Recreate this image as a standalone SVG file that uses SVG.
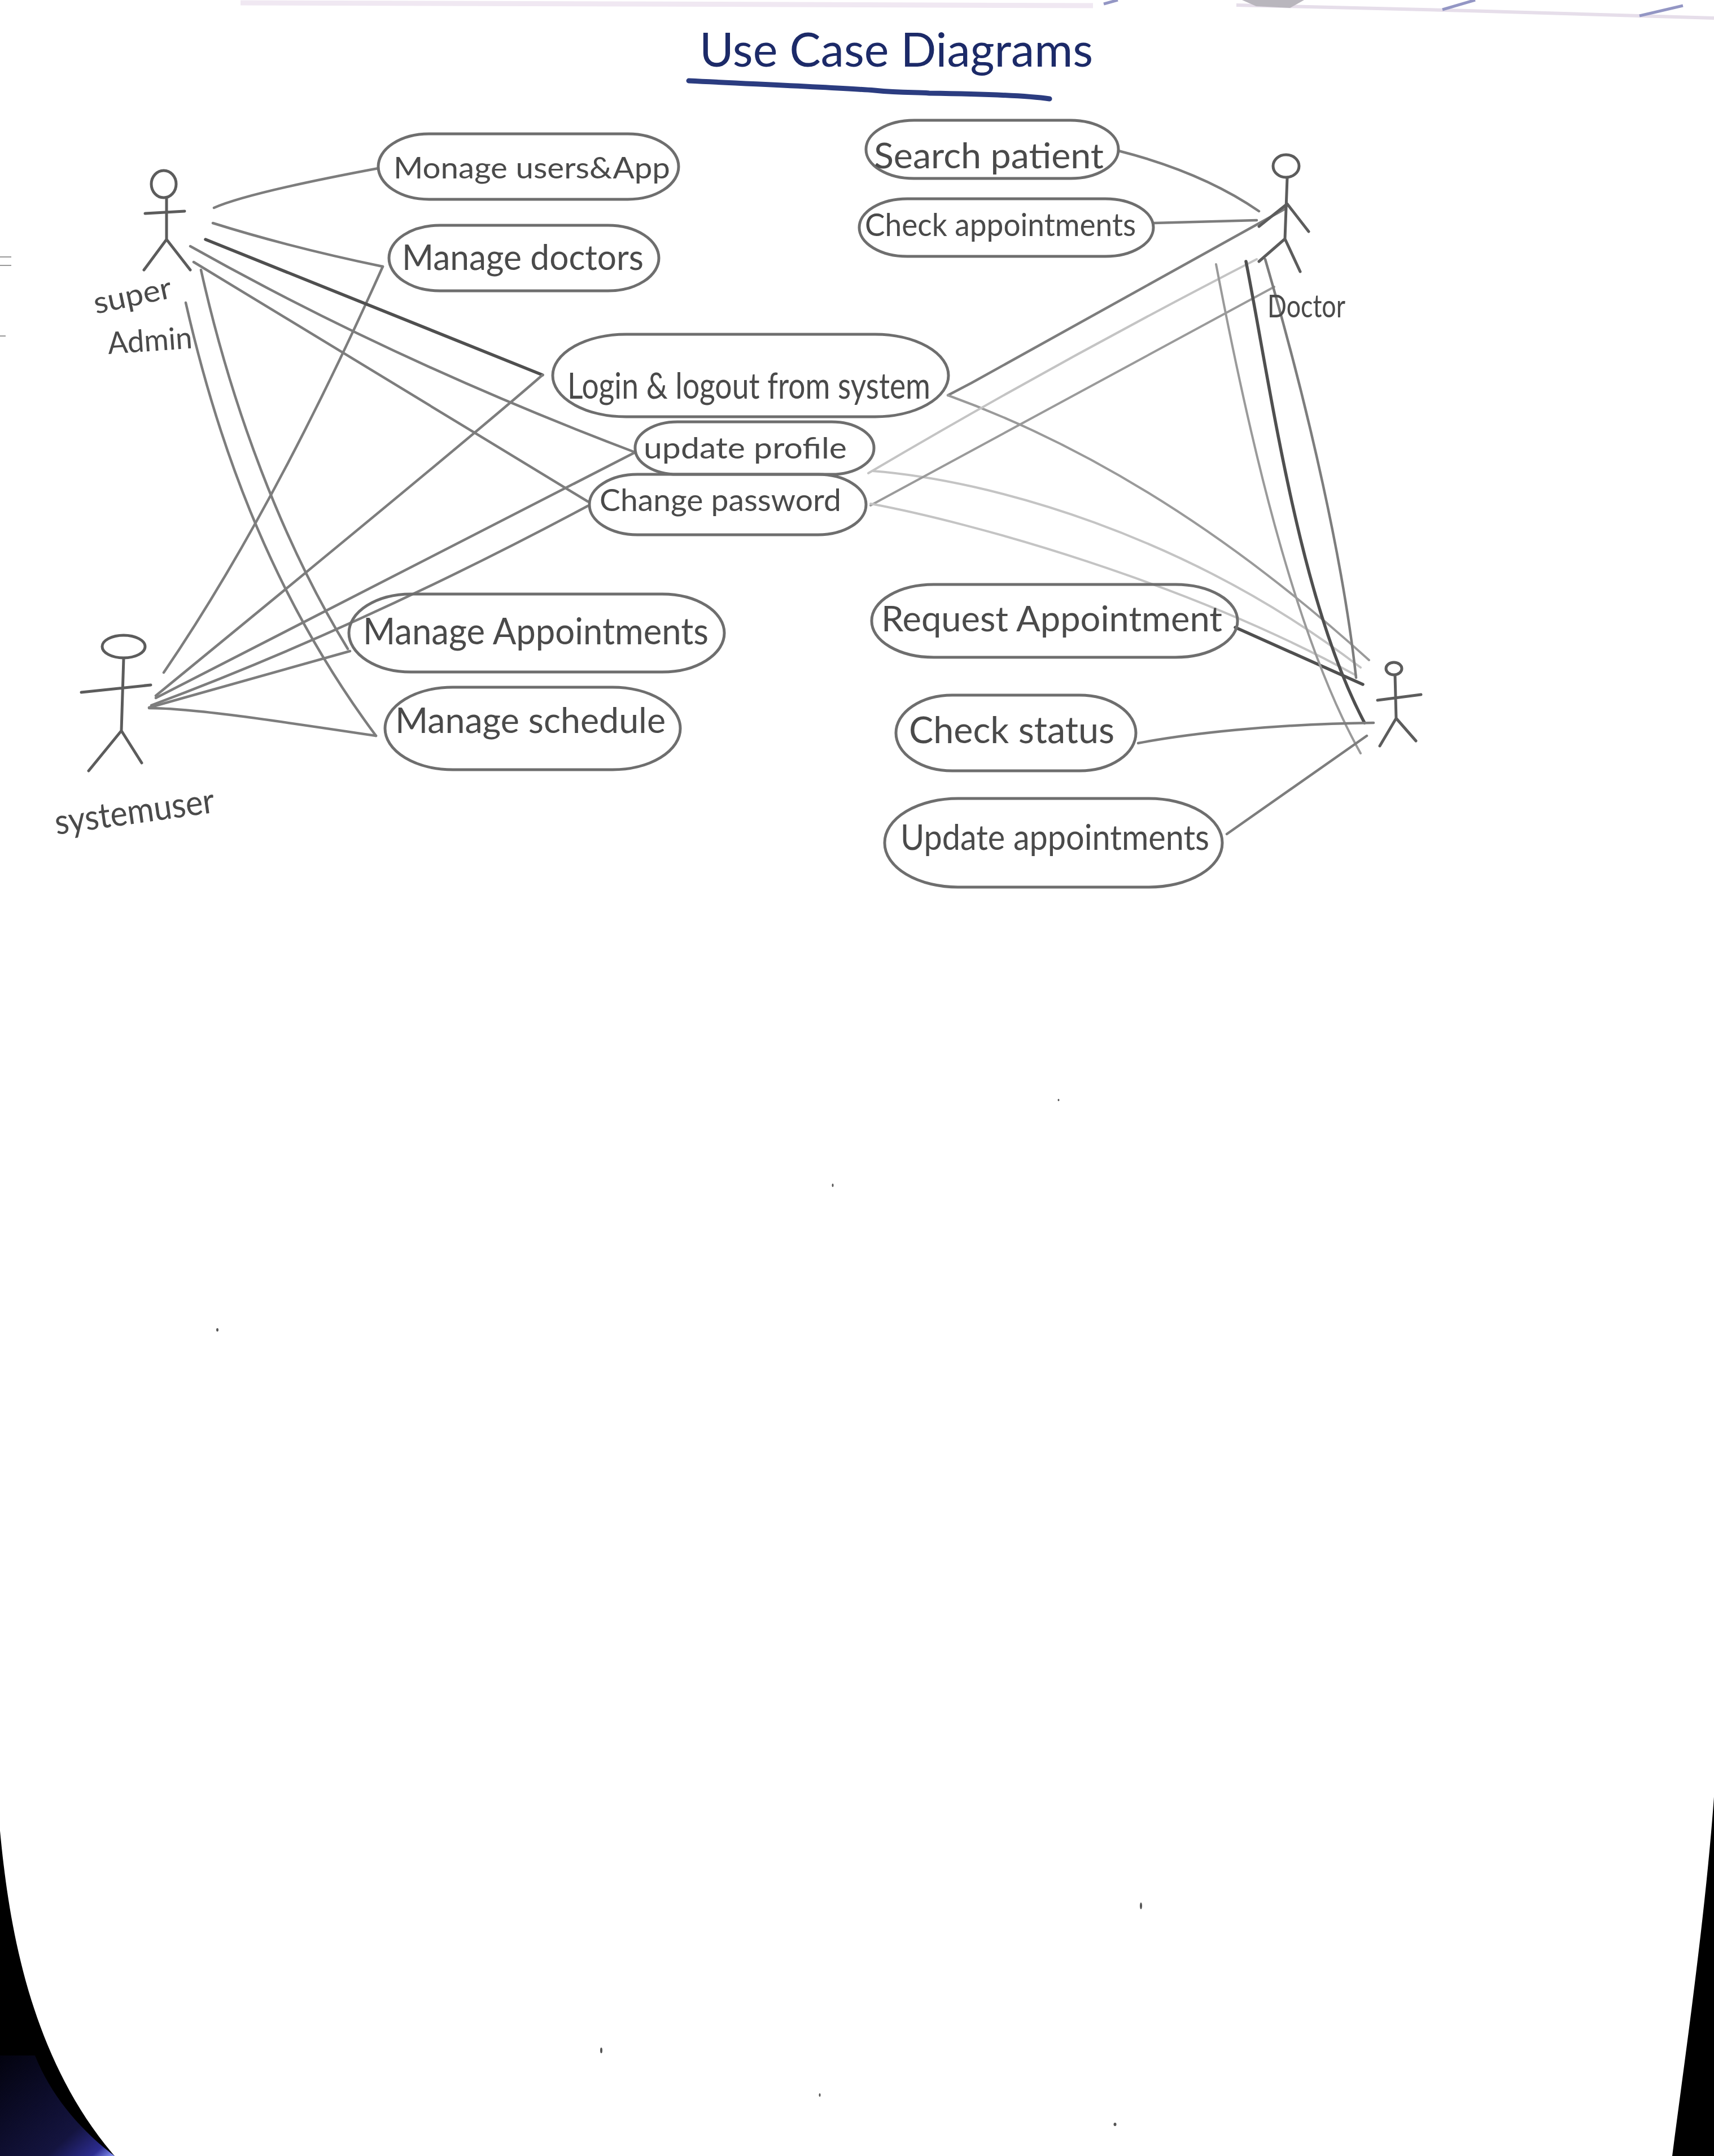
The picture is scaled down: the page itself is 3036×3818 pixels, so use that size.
<svg xmlns="http://www.w3.org/2000/svg" width="3036" height="3818" viewBox="0 0 3036 3818">
<style>
.u{fill:none;stroke:#6e6e6e;stroke-width:5}
.a{fill:none;stroke:#5c5c5c;stroke-width:5;stroke-linecap:round;stroke-linejoin:round}
.c{fill:none;stroke:#7d7d7d;stroke-width:4.5;stroke-linecap:round;stroke-linejoin:round}
.d{stroke:#4f4f4f;stroke-width:5.5}
.m{stroke:#9a9a9a;stroke-width:4}
.l{stroke:#c4c4c4;stroke-width:4}
.t{font-family:"Lato","Liberation Sans",sans-serif;fill:#4a4a4a}
</style>
<defs><linearGradient id="glow" x1="0" y1="0" x2="1" y2="1"><stop offset="0" stop-color="#03030f"/><stop offset=".7" stop-color="#14143f"/><stop offset=".9" stop-color="#2c2c90"/><stop offset="1" stop-color="#8f9cff"/></linearGradient></defs>
<rect width="3036" height="3818" fill="#fff"/>
<g id="page-edges">
<path d="M426,5 L1100,7 L1936,10" fill="none" stroke="#f0e8f2" stroke-width="9"/>
<path d="M2190,9 L2600,19 L3036,32" fill="none" stroke="#e6deea" stroke-width="6"/>
<path d="M2200,0 H2310 L2285,14 L2225,11 Z" fill="#b9b6bd"/>
<path d="M1955,7 L1980,0 M2555,17 L2613,0 M2904,28 L2981,10" fill="none" stroke="#9396c4" stroke-width="5"/>
<path d="M0,455 H20 M0,470 H20 M0,595 H10" fill="none" stroke="#999" stroke-width="2"/>
<path d="M0,3242 C15,3400 50,3640 203,3818 H0 Z" fill="#000"/>
<path d="M0,3640 L62,3640 C90,3710 140,3770 203,3818 H0 Z" fill="url(#glow)"/>
<path d="M3036,3182 C3020,3400 2985,3640 2962,3818 H3036 Z" fill="#000"/>
<g fill="#555"><ellipse cx="2021" cy="3375" rx="2" ry="6"/><ellipse cx="1065" cy="3631" rx="2" ry="5"/><ellipse cx="1452" cy="3710" rx="1.500" ry="3"/><ellipse cx="1975" cy="3762" rx="2.500" ry="3"/><ellipse cx="385" cy="2355" rx="2" ry="3"/><ellipse cx="1475" cy="2099" rx="1.500" ry="3"/><ellipse cx="1875" cy="1948" rx="1.500" ry="2"/></g>
</g>
<g id="title">
<text x="1239" y="118" font-family="Lato,'Liberation Sans',sans-serif" font-size="84" fill="#1c2a68" textLength="697" lengthAdjust="spacingAndGlyphs">Use  Case  Diagrams</text>
<path d="M1220,143 C1360,150 1480,155 1549,160 C1600,165 1620,163 1646,165 C1720,166 1810,168 1859,175" fill="none" stroke="#2b3c80" stroke-width="9" stroke-linecap="round"/>
</g>
<g id="connectors">
<path class="c" d="M379,368 Q440,341 670,298"/>
<path class="c" d="M377,395 Q514,438 678,472"/>
<path class="c" d="M678,472 Q482,910 290,1191"/>
<path class="c d" d="M364,424 L961,664"/>
<path class="c" d="M961,664 Q834,775 276,1232"/>
<path class="c" d="M337,436 Q700,640 1125,801"/>
<path class="c" d="M1125,801 L276,1236"/>
<path class="c" d="M343,464 L1041,888"/>
<path class="c" d="M1041,896 Q640,1110 268,1249"/>
<path class="c" d="M356,478 C410,720 500,960 616,1149"/>
<path class="c" d="M329,536 C380,760 470,1040 666,1303"/>
<path class="c" d="M264,1253 L620,1153"/>
<path class="c" d="M264,1254 C340,1254 480,1275 666,1303"/>
<path class="c" d="M1981,267 Q2130,305 2230,374"/>
<path class="c" d="M2043,395 L2226,390"/>
<path class="c" d="M1679,700 L1721,678 L2276,370"/>
<path class="c m" d="M1679,700 C1900,780 2150,920 2425,1169"/>
<path class="c l" d="M1538,838 Q1874,640 2226,459"/>
<path class="c l" d="M1545,834 C1750,850 2100,945 2410,1182"/>
<path class="c m" d="M1542,895 L2257,508"/>
<path class="c l" d="M1542,892 C1720,925 2100,1030 2402,1196"/>
<path class="c d" d="M2188,1111 L2414,1212"/>
<path class="c m" d="M2154,468 C2210,760 2290,1120 2410,1334"/>
<path class="c d" d="M2207,463 C2250,680 2300,1060 2417,1280"/>
<path class="c" d="M2241,459 C2320,730 2380,1000 2402,1200"/>
<path class="c" d="M2016,1316 C2100,1300 2250,1282 2433,1280"/>
<path class="c" d="M2173,1477 L2421,1303"/>
</g>
<g id="actor-super-admin">
<ellipse class="a" cx="290" cy="326" rx="22" ry="24"/>
<path class="a" d="M295,350 L295,424 M257,378 L327,374 M255,478 L295,424 L337,478"/>
<text class="t" transform="rotate(-12 170 556)" x="170" y="556" font-size="54" textLength="140" lengthAdjust="spacingAndGlyphs">super</text>
<text class="t" transform="rotate(-4 192 627)" x="192" y="627" font-size="54" textLength="150" lengthAdjust="spacingAndGlyphs">Admin</text>
</g>
<g id="actor-system-user">
<ellipse class="a" cx="219" cy="1145" rx="38" ry="20"/>
<path class="a" d="M219,1166 L215,1294 M144,1226 L267,1213 M157,1365 L215,1294 L251,1351"/>
<text class="t" transform="rotate(-8 100 1478)" x="100" y="1478" font-size="62" textLength="285" lengthAdjust="spacingAndGlyphs">systemuser</text>
</g>
<g id="actor-doctor">
<ellipse class="a" cx="2278" cy="294" rx="23" ry="20"/>
<path class="a" d="M2280,316 L2276,423 M2230,401 L2280,361 L2318,410 M2230,463 L2276,423 L2303,481"/>
<text class="t" x="2245" y="562" font-size="56" fill="#7c7c7c" textLength="138" lengthAdjust="spacingAndGlyphs">Doctor</text>
</g>
<g id="actor-patient">
<ellipse class="a" cx="2469" cy="1184" rx="14" ry="11"/>
<path class="a" d="M2471,1196 L2473,1272 M2440,1240 L2517,1230 M2444,1321 L2473,1272 L2508,1312"/>
</g>
<g id="uc-manage-users"><rect class="u" x="670" y="237" width="532" height="116" rx="90" ry="58"/><text class="t" x="697" y="316" font-size="52" textLength="490" lengthAdjust="spacingAndGlyphs">Monage users&amp;App</text></g>
<g id="uc-manage-doctors"><rect class="u" x="689" y="399" width="478" height="116" rx="90" ry="58"/><text class="t" x="712" y="478" font-size="62" textLength="428" lengthAdjust="spacingAndGlyphs">Manage doctors</text></g>
<g id="uc-login"><rect class="u" x="979" y="592" width="701" height="146" rx="130" ry="73"/><text class="t" x="1005" y="706" font-size="64" textLength="643" lengthAdjust="spacingAndGlyphs">Login &amp; logout from system</text></g>
<g id="uc-update-profile"><rect class="u" x="1125" y="747" width="423" height="93" rx="75" ry="46"/><text class="t" x="1140" y="812" font-size="52" textLength="360" lengthAdjust="spacingAndGlyphs">update profile</text></g>
<g id="uc-change-password"><rect class="u" x="1044" y="840" width="490" height="107" rx="85" ry="53"/><text class="t" x="1062" y="905" font-size="54" textLength="428" lengthAdjust="spacingAndGlyphs">Change password</text></g>
<g id="uc-manage-appointments"><rect class="u" x="618" y="1052" width="665" height="138" rx="110" ry="69"/><text class="t" x="643" y="1141" font-size="66" textLength="612" lengthAdjust="spacingAndGlyphs">Manage Appointments</text></g>
<g id="uc-manage-schedule"><rect class="u" x="682" y="1217" width="523" height="146" rx="120" ry="73"/><text class="t" x="700" y="1298" font-size="62" textLength="479" lengthAdjust="spacingAndGlyphs">Manage schedule</text></g>
<g id="uc-search-patient"><rect class="u" x="1534" y="213" width="447" height="103" rx="85" ry="51"/><text class="t" x="1548" y="298" font-size="62" textLength="407" lengthAdjust="spacingAndGlyphs">Search patient</text></g>
<g id="uc-check-appointments"><rect class="u" x="1522" y="352" width="521" height="102" rx="85" ry="51"/><text class="t" x="1532" y="418" font-size="56" textLength="480" lengthAdjust="spacingAndGlyphs">Check appointments</text></g>
<g id="uc-request-appointment"><rect class="u" x="1544" y="1035" width="648" height="129" rx="110" ry="64"/><text class="t" x="1561" y="1118" font-size="62" textLength="604" lengthAdjust="spacingAndGlyphs">Request Appointment</text></g>
<g id="uc-check-status"><rect class="u" x="1587" y="1231" width="425" height="134" rx="100" ry="67"/><text class="t" x="1610" y="1316" font-size="66" textLength="364" lengthAdjust="spacingAndGlyphs">Check status</text></g>
<g id="uc-update-appointments"><rect class="u" x="1567" y="1414" width="598" height="157" rx="130" ry="78"/><text class="t" x="1595" y="1505" font-size="62" textLength="547" lengthAdjust="spacingAndGlyphs">Update appointments</text></g>
</svg>
